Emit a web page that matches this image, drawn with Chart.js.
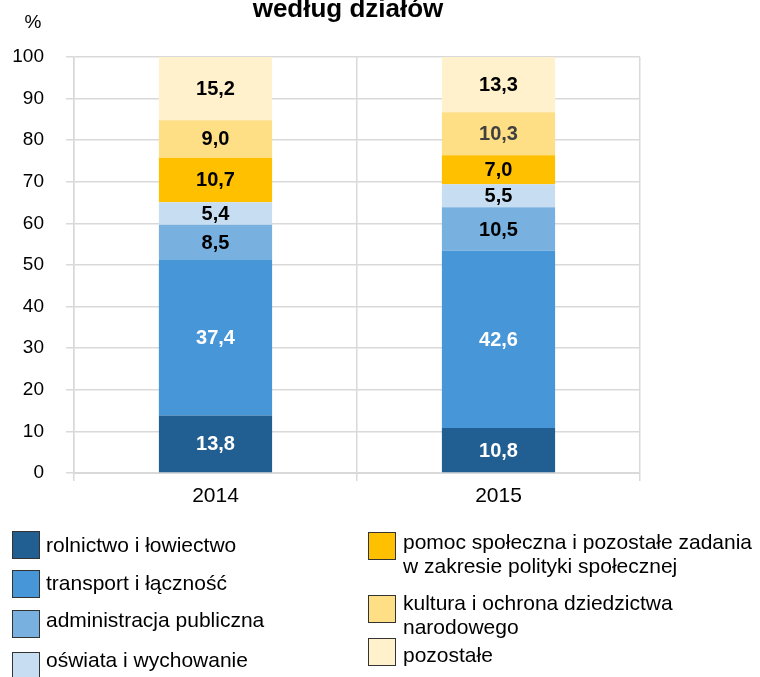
<!DOCTYPE html>
<html>
<head>
<meta charset="utf-8">
<script src="https://cdn.jsdelivr.net/npm/chart.js@4"></script>
<style>
  body { margin: 0; background: #fff; }
  #wrap { position: relative; width: 760px; height: 677px; overflow: hidden; }
  #chart { position: absolute; left: 0; top: 0; }
  .item { position: absolute; font: 21px "Liberation Sans", Arial, sans-serif; color: #000; line-height: 24px; white-space: nowrap; }
  .box { position: absolute; width: 26px; height: 26px; border: 1px solid #333; }
</style>
</head>
<body>
<div id="wrap">
  <canvas id="chart" width="760" height="677"></canvas>
  <div id="legend"></div>
</div>
<script>
// years and the share of each section (in %)
const years = ['2014', '2015'];
const seriesNames = [
    'rolnictwo i łowiectwo',
    'transport i łączność',
    'administracja publiczna',
    'oświata i wychowanie',
    'pomoc społeczna i pozostałe zadania\nw zakresie polityki społecznej',
    'kultura i ochrona dziedzictwa\nnarodowego',
    'pozostałe'
];
const rolnictwo = [13.8, 10.8];
const transport = [37.4, 42.6];
const administracja = [8.5, 10.5];
const oswiata = [5.4, 5.5];
const pomoc = [10.7, 7.0];
const kultura = [9.0, 10.3];
const pozostale = [15.2, 13.3];
const yTicks = [0, 10, 20, 30, 40, 50, 60, 70, 80, 90, 100];

const colors = ['#215E91', '#4796D8', '#78B0E0', '#C7DDF1', '#FFC000', '#FFDF86', '#FFF1CC'];
// label colour per series and year
const labelColors = [
    ['#fff', '#fff'], ['#fff', '#fff'], ['#000', '#000'], ['#000', '#000'],
    ['#000', '#000'], ['#000', '#404040'], ['#000', '#000']
];

const values = [rolnictwo, transport, administracja, oswiata, pomoc, kultura, pozostale];

const datasets = values.map((v, i) => ({
    label: seriesNames[i].replace('\n', ' '),
    data: v,
    backgroundColor: colors[i],
    borderWidth: 0,
    barPercentage: 0.4,
    categoryPercentage: 1
}));

// value labels in the middle of every segment
const segmentLabels = {
    id: 'segmentLabels',
    afterDatasetsDraw(chart) {
        const ctx = chart.ctx;
        ctx.save();
        ctx.font = 'bold 20px "Liberation Sans", Arial, sans-serif';
        ctx.textAlign = 'center';
        ctx.textBaseline = 'middle';
        chart.data.datasets.forEach((ds, i) => {
            chart.getDatasetMeta(i).data.forEach((bar, j) => {
                const mid = (bar.y + bar.base) / 2;
                ctx.fillStyle = labelColors[i][j];
                ctx.fillText(ds.data[j].toFixed(1).replace('.', ','), bar.x, mid + 1);
            });
        });
        ctx.restore();
    }
};

// heading and unit above the axis
const headText = {
    id: 'headText',
    afterDraw(chart) {
        const ctx = chart.ctx;
        ctx.save();
        ctx.fillStyle = '#000';
        ctx.textAlign = 'center';
        ctx.textBaseline = 'alphabetic';
        ctx.font = 'bold 26px "Liberation Sans", Arial, sans-serif';
        ctx.fillText('według działów', 348, 17);
        ctx.font = '19px "Liberation Sans", Arial, sans-serif';
        ctx.fillText('%', 33, 28);
        ctx.restore();
    }
};

new Chart(document.getElementById('chart'), {
    type: 'bar',
    data: { labels: years, datasets: datasets },
    options: {
        responsive: false,
        animation: false,
        layout: { padding: { top: 57, right: 120, bottom: 164, left: 0 } },
        plugins: { legend: { display: false }, tooltip: { enabled: false } },
        scales: {
            x: {
                stacked: true,
                afterFit: s => { s.height = 40; },
                grid: { color: '#D9D9D9', lineWidth: 1.5, tickLength: 8, offset: true },
                border: { color: '#D9D9D9', width: 2 },
                ticks: { color: '#000', font: { size: 21, family: '"Liberation Sans", Arial' }, padding: 3 }
            },
            y: {
                stacked: true,
                min: 0,
                max: 100,
                afterFit: s => { s.width = 74; },
                afterBuildTicks: s => { s.ticks = yTicks.map(v => ({ value: v })); },
                grid: { color: '#D9D9D9', lineWidth: 1.5, tickLength: 8 },
                border: { color: '#D9D9D9', width: 1.5 },
                ticks: { color: '#000', font: { size: 19, family: '"Liberation Sans", Arial' }, padding: 22 }
            }
        }
    },
    plugins: [segmentLabels, headText]
});

// legend in two columns below the chart
const legendPos = [
    { box: [12, 531], text: [46, 533] },
    { box: [12, 570], text: [46, 571] },
    { box: [12, 610], text: [46, 608] },
    { box: [12, 652], text: [46, 648] },
    { box: [368, 532], text: [403, 530] },
    { box: [368, 595], text: [403, 591] },
    { box: [368, 638], text: [403, 643] }
];
const legend = document.getElementById('legend');
seriesNames.forEach((name, i) => {
    const p = legendPos[i];
    const box = document.createElement('div');
    box.className = 'box';
    box.style.left = p.box[0] + 'px';
    box.style.top = p.box[1] + 'px';
    box.style.background = colors[i];
    legend.appendChild(box);
    const txt = document.createElement('div');
    txt.className = 'item';
    txt.style.left = p.text[0] + 'px';
    txt.style.top = p.text[1] + 'px';
    txt.innerHTML = name.replace('\n', '<br>');
    legend.appendChild(txt);
});
</script>
</body>
</html>
